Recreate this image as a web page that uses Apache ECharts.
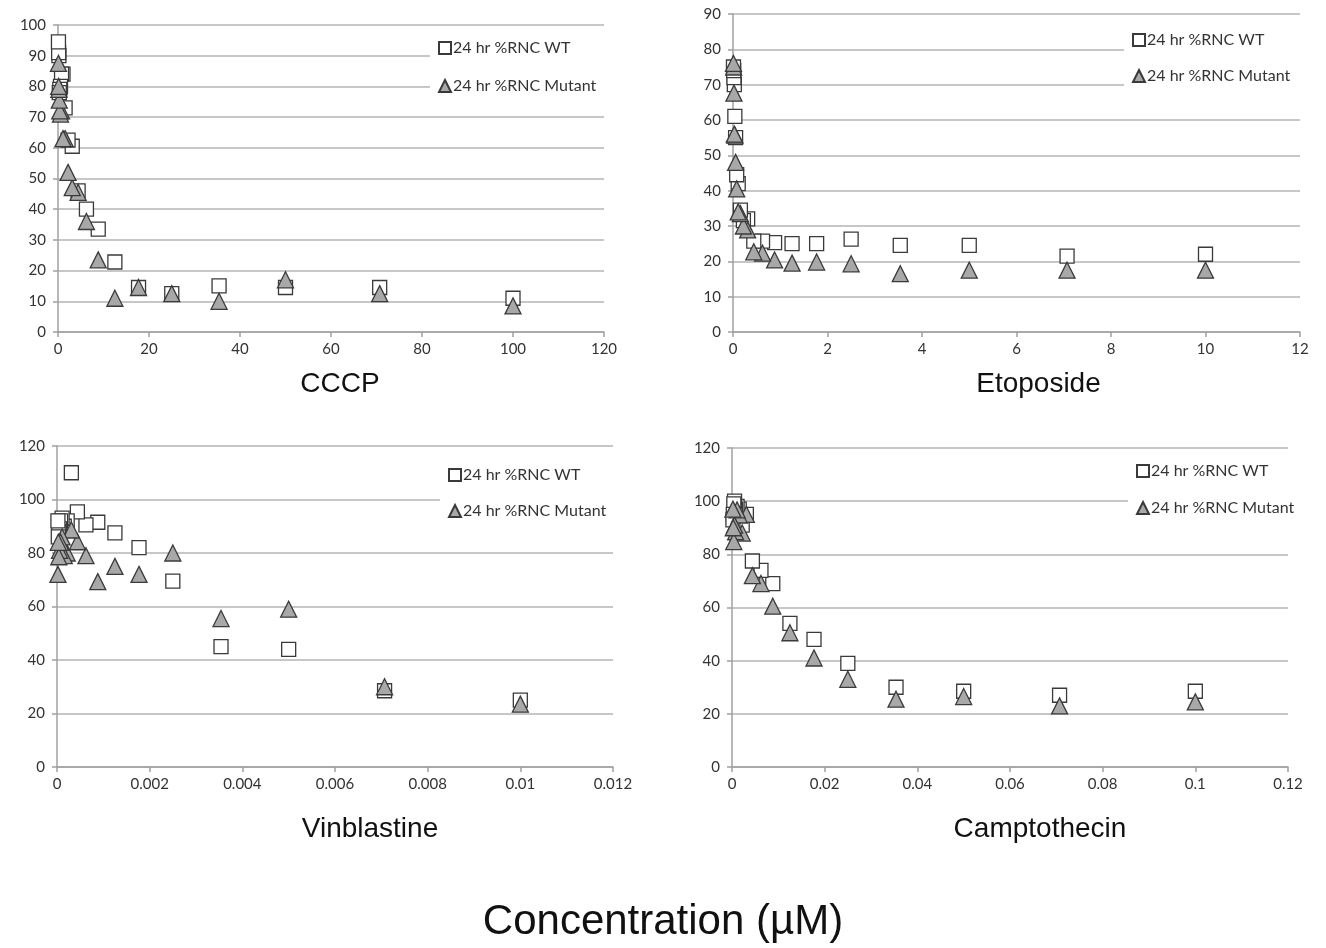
<!DOCTYPE html>
<html>
<head>
<meta charset="utf-8">
<script src="https://cdn.jsdelivr.net/npm/echarts@6/dist/echarts.min.js"></script>
<style>
  html, body { margin: 0; padding: 0; background: #fff; }
  #chart { width: 1326px; height: 948px; }
</style>
</head>
<body>
<div id="chart"></div>
<script>
// ---------- DATA ----------
const seriesNames = ['24 hr %RNC WT', '24 hr %RNC Mutant'];
const panelTitles = ['CCCP', 'Etoposide', 'Vinblastine', 'Camptothecin'];
const mainTitle = 'Concentration (\u00b5M)';

const cccpX   = [100, 70.7, 50, 35.4, 25, 17.7, 12.5, 8.84, 6.25, 4.42, 3.13, 2.21, 1.56, 1.1, 0.78, 0.55, 0.39, 0.28, 0.2, 0.14, 0.1];
const cccpWT  = [11, 14.5, 14.5, 15, 12.5, 14.5, 22.8, 33.5, 40, 46, 60.5, 62.5, 73, 84, 84, 80, 79, 78, 90, 91, 94.5];
const cccpMut = [8.5, 12.5, 17, 10, 12.5, 14.5, 11, 23.5, 36, 45.5, 47, 52, 63, 63, 72, 71, 72, 75.5, 79, 80, 87.5];

const etoX   = [10, 7.07, 5, 3.54, 2.5, 1.77, 1.25, 0.88, 0.625, 0.44, 0.31, 0.22, 0.156, 0.11, 0.078, 0.055, 0.039, 0.028, 0.02, 0.014, 0.01];
const etoWT  = [22, 21.5, 24.5, 24.5, 26.3, 25, 25, 25.3, 25.7, 25.7, 32, 31.5, 34.5, 42, 44.5, 55, 61, 70, 72, 74, 75];
const etoMut = [17.5, 17.5, 17.5, 16.5, 19.3, 19.8, 19.5, 20.4, 22.3, 22.7, 28.9, 30, 33.5, 34, 40.5, 48, 55.7, 56, 67.6, 75, 76];

const vinX   = [0.01, 0.00707, 0.005, 0.00354, 0.0025, 0.00177, 0.00125, 0.00088, 0.000625, 0.00044, 0.00031, 0.00022, 0.000156, 0.00011, 0.000078, 0.000055, 0.000039, 0.000028, 0.00002];
const vinWT  = [25, 28.5, 44, 45, 69.5, 82, 87.5, 91.5, 90.5, 95.4, 110, 92, 90, 93, 92, 89, 88, 86, 92];
const vinMut = [23.5, 30, 59, 55.5, 80, 72, 75, 69.3, 79, 84.2, 88.6, 80, 79, 86, 84, 81, 78.6, 84, 72];

const camX   = [0.1, 0.0707, 0.05, 0.0354, 0.025, 0.0177, 0.0125, 0.0088, 0.00625, 0.0044, 0.0031, 0.0022, 0.00156, 0.0011, 0.00078, 0.00055, 0.00039, 0.00028, 0.0002];
const camWT  = [28.5, 27, 28.5, 30, 39, 48, 54, 69, 74, 77.5, 95, 91, 97, 98, 97, 100, 99, 95, 93];
const camMut = [24.5, 23, 26.5, 25.5, 33, 41, 50.5, 60.5, 69, 72, 95, 88, 94.8, 96.7, 88.5, 91, 84.8, 90, 97];

// axis ranges / tick intervals
const xMax = [120, 12, 0.012, 0.12];
const xInterval = [20, 2, 0.002, 0.02];
const yMax = [100, 90, 120, 120];
const yInterval = [10, 10, 20, 20];

// ---------- LAYOUT ----------
const grids = [
  { left: 58,  top: 25,  width: 546, height: 307 },
  { left: 733, top: 14,  width: 567, height: 318 },
  { left: 57,  top: 446, width: 556, height: 321 },
  { left: 732, top: 448, width: 556, height: 319 }
];
const nameGaps = [38, 38, 48, 48];
const nameShift = [18, 44, 70, 60];
const legendPos = [
  { left: 430, top: 30, gap: 22 },
  { left: 1124, top: 22, gap: 20 },
  { left: 440, top: 457, gap: 20 },
  { left: 1128, top: 453, gap: 21 }
];

const panels = [
  [cccpX, cccpWT, cccpMut],
  [etoX, etoWT, etoMut],
  [vinX, vinWT, vinMut],
  [camX, camWT, camMut]
];

const tickFont = 'Lato, "Open Sans", sans-serif';
const titleFont = '"Liberation Sans", Arial, sans-serif';
const gridColor = '#b4b4b4';
const axisColor = '#a0a0a0';

const xAxes = [], yAxes = [], series = [], legends = [];
panels.forEach((p, i) => {
  xAxes.push({
    type: 'value', gridIndex: i, min: 0, max: xMax[i], interval: xInterval[i],
    name: panelTitles[i], nameLocation: 'middle', nameGap: nameGaps[i],
    nameTextStyle: { fontFamily: titleFont, fontSize: 28, color: '#111', padding: [0, 0, 0, nameShift[i]] },
    axisLine: { show: true, lineStyle: { color: axisColor, width: 1.5 } },
    axisTick: { show: true, length: 5, lineStyle: { color: axisColor, width: 1.5 } },
    axisLabel: { fontFamily: tickFont, fontSize: 15, color: '#333', margin: 10 },
    splitLine: { show: false }
  });
  yAxes.push({
    type: 'value', gridIndex: i, min: 0, max: yMax[i], interval: yInterval[i],
    axisLine: { show: true, lineStyle: { color: axisColor, width: 1.5 } },
    axisTick: { show: true, length: 5, lineStyle: { color: axisColor, width: 1.5 } },
    axisLabel: { fontFamily: tickFont, fontSize: 15, color: '#333', margin: 12 },
    splitLine: { show: true, lineStyle: { color: gridColor, width: 1.5 } }
  });
  const [xs, wt, mut] = p;
  series.push({
    name: seriesNames[0], type: 'scatter', xAxisIndex: i, yAxisIndex: i,
    symbol: 'rect', symbolSize: 14, z: 3,
    itemStyle: { color: '#ffffff', borderColor: '#3a3a3a', borderWidth: 1.3, opacity: 1 },
    data: xs.map((x, k) => [x, wt[k]])
  });
  series.push({
    name: seriesNames[1], type: 'scatter', xAxisIndex: i, yAxisIndex: i,
    symbol: 'triangle', symbolSize: 16, z: 4,
    itemStyle: { color: '#a8a8a8', borderColor: '#3a3a3a', borderWidth: 1.3, opacity: 1 },
    data: xs.map((x, k) => [x, mut[k]])
  });
  legends.push({
    left: legendPos[i].left, top: legendPos[i].top, orient: 'vertical',
    data: seriesNames, selectedMode: false,
    backgroundColor: '#ffffff', padding: [10, 36, 10, 8],
    itemWidth: 12, itemHeight: 12, itemGap: legendPos[i].gap,
    textStyle: { fontFamily: tickFont, fontSize: 16, color: '#333', padding: [0, 0, 0, -3] },
    z: 10
  });
});

const chart = echarts.init(document.getElementById('chart'), null, { renderer: 'canvas' });
chart.setOption({
  backgroundColor: '#ffffff',
  animation: false,
  title: {
    text: mainTitle, left: 'center', top: 896,
    textStyle: { fontFamily: titleFont, fontSize: 42, fontWeight: 'normal', color: '#111' }
  },
  grid: grids,
  xAxis: xAxes,
  yAxis: yAxes,
  legend: legends,
  series: series
});
</script>
</body>
</html>
